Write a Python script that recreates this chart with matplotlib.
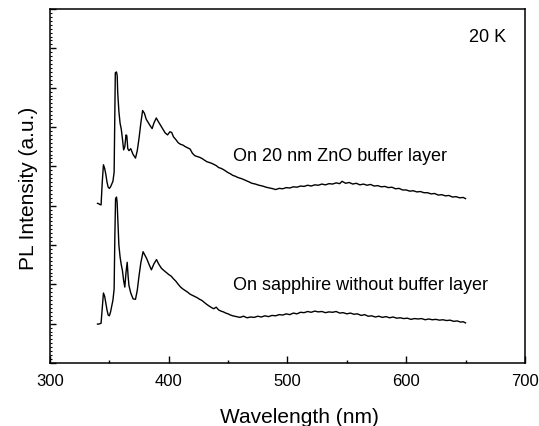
import matplotlib
matplotlib.use("Agg")
import matplotlib.pyplot as plt
from matplotlib.ticker import MultipleLocator, NullFormatter

plt.rcParams['font.family'] = ['Liberation Sans', 'DejaVu Sans']

# ── data ─────────────────────────────────────────────────────────────────────
# upper spectrum: on 20 nm ZnO buffer layer
wl_buf = [340, 341, 342, 343, 344, 345, 346, 347, 348, 349, 350, 351, 352, 353,
          354, 354.5, 355, 356, 356.6, 357, 358, 359, 360, 361, 362, 363, 364,
          364.7, 365.5, 366.5, 368, 370, 372, 373.5, 375, 376.5, 378, 379.5,
          381, 382.6, 384, 386, 387.5, 389.5, 391, 393, 395, 397, 399, 401,
          402.5, 404, 406, 408, 410, 412, 414, 416, 418, 420, 422, 424, 426,
          428, 430, 432, 434, 436, 438, 440, 442, 444, 446, 448, 450, 452, 454,
          456, 458, 460, 462, 465, 468, 470, 473, 476, 479, 482, 485, 488, 490,
          493, 496, 499, 502, 505, 508, 511, 514, 517, 520, 523, 526, 529, 532,
          535, 538, 541, 544, 546, 549, 552, 555, 558, 561, 564, 567, 570, 573,
          576, 579, 582, 585, 588, 591, 594, 597, 600, 603, 606, 609, 612, 615,
          618, 621, 624, 627, 630, 633, 636, 639, 642, 645, 648, 650]
pl_buf = [4.06, 4.05, 4.03, 4.02, 4.60, 5.04, 4.95, 4.80, 4.60, 4.47, 4.44, 4.48,
          4.55, 4.62, 4.85, 6.20, 7.38, 7.40, 7.30, 6.89, 6.40, 6.10, 5.95, 5.70,
          5.42, 5.50, 5.80, 5.78, 5.45, 5.40, 5.45, 5.30, 5.21, 5.40, 5.72, 6.10,
          6.42, 6.35, 6.20, 6.12, 6.05, 5.96, 6.10, 6.23, 6.15, 6.05, 5.95, 5.85,
          5.80, 5.88, 5.86, 5.75, 5.68, 5.60, 5.56, 5.54, 5.50, 5.47, 5.44, 5.33,
          5.27, 5.25, 5.23, 5.20, 5.16, 5.12, 5.10, 5.08, 5.05, 5.02, 4.97, 4.95,
          4.92, 4.88, 4.84, 4.81, 4.77, 4.75, 4.72, 4.70, 4.68, 4.64, 4.60, 4.57,
          4.55, 4.52, 4.50, 4.47, 4.45, 4.43, 4.41, 4.44, 4.43, 4.46, 4.45, 4.48,
          4.47, 4.50, 4.49, 4.52, 4.50, 4.53, 4.52, 4.55, 4.53, 4.56, 4.55, 4.58,
          4.56, 4.62, 4.57, 4.59, 4.55, 4.57, 4.53, 4.55, 4.52, 4.54, 4.50, 4.51,
          4.48, 4.49, 4.46, 4.47, 4.43, 4.44, 4.40, 4.40, 4.37, 4.38, 4.35, 4.36,
          4.33, 4.33, 4.30, 4.31, 4.27, 4.28, 4.25, 4.26, 4.22, 4.23, 4.20, 4.21,
          4.18]

# lower spectrum: on sapphire without buffer layer
wl_sap = [340, 341, 342, 343, 344, 345, 346, 347, 348, 349, 350, 351, 352, 353,
          354, 354.6, 355.2, 356, 356.5, 357, 358, 359, 360, 361, 362, 363, 364,
          365, 365.8, 366.5, 368, 370, 372, 373.5, 375, 376.5, 378.4, 380, 381.5,
          383.5, 385.4, 387.5, 389.7, 391.5, 393.8, 396, 398, 400, 402, 404, 406,
          408, 410, 412, 414, 416, 418, 420, 422, 424, 426, 428, 430, 432, 434,
          436, 438, 440, 442, 444, 446, 448, 450, 452, 454, 457, 460, 463, 466,
          469, 472, 475, 478, 481, 484, 487, 490, 493, 496, 499, 502, 505, 508,
          511, 514, 517, 520, 523, 526, 529, 532, 535, 538, 541, 544, 547, 550,
          553, 556, 559, 562, 565, 568, 571, 574, 577, 580, 583, 586, 589, 592,
          595, 598, 601, 604, 607, 610, 613, 616, 619, 622, 625, 628, 631, 634,
          637, 640, 643, 646, 648, 650]
pl_sap = [0.99, 0.99, 1.00, 1.01, 1.40, 1.78, 1.70, 1.52, 1.35, 1.22, 1.20, 1.30,
          1.45, 1.60, 1.88, 3.20, 4.17, 4.22, 4.10, 3.75, 3.00, 2.70, 2.50, 2.35,
          2.10, 1.93, 2.30, 2.56, 2.20, 1.97, 1.78, 1.63, 1.62, 1.85, 2.22, 2.55,
          2.83, 2.74, 2.65, 2.50, 2.37, 2.52, 2.63, 2.52, 2.41, 2.35, 2.30, 2.25,
          2.21, 2.14, 2.08, 2.00, 1.93, 1.88, 1.84, 1.80, 1.75, 1.72, 1.69, 1.66,
          1.62, 1.59, 1.54, 1.49, 1.45, 1.41, 1.38, 1.42, 1.35, 1.32, 1.30, 1.27,
          1.25, 1.22, 1.20, 1.18, 1.16, 1.19, 1.15, 1.17, 1.16, 1.19, 1.17, 1.20,
          1.18, 1.21, 1.20, 1.23, 1.22, 1.25, 1.23, 1.27, 1.25, 1.29, 1.28, 1.31,
          1.29, 1.32, 1.30, 1.31, 1.28, 1.30, 1.29, 1.31, 1.27, 1.28, 1.25, 1.27,
          1.24, 1.25, 1.21, 1.23, 1.19, 1.20, 1.17, 1.19, 1.16, 1.18, 1.15, 1.17,
          1.14, 1.15, 1.13, 1.14, 1.11, 1.13, 1.12, 1.13, 1.10, 1.12, 1.10, 1.11,
          1.09, 1.10, 1.08, 1.09, 1.06, 1.07, 1.04, 1.05, 1.02]

label_buf = "On 20 nm ZnO buffer layer"
label_sap = "On sapphire without buffer layer"
label_temp = "20 K"

# ── figure ───────────────────────────────────────────────────────────────────
fig = plt.figure(figsize=(5.39, 4.27), dpi=100)
ax = fig.add_axes([0.0928, 0.1475, 0.881, 0.829])

ax.plot(wl_buf, pl_buf, color="black", lw=1.0)
ax.plot(wl_sap, pl_sap, color="black", lw=1.0)

ax.set_xlim(300, 700)
ax.set_ylim(0, 9)
ax.xaxis.set_major_locator(MultipleLocator(100))
ax.xaxis.set_minor_locator(MultipleLocator(50))
ax.yaxis.set_major_locator(MultipleLocator(1))
ax.yaxis.set_minor_locator(MultipleLocator(0.1))
ax.yaxis.set_major_formatter(NullFormatter())
ax.tick_params(axis="x", which="major", direction="in", length=5, width=1,
               labelsize=12, pad=7)
ax.tick_params(axis="x", which="minor", direction="in", length=2.2, width=1)
ax.tick_params(axis="y", which="major", direction="in", length=4.3, width=1)
ax.tick_params(axis="y", which="minor", direction="in", length=1.5, width=0.8)
for s in ax.spines.values():
    s.set_linewidth(1.1)

ax.text(454, 5.27, label_buf, fontsize=13, va="center", ha="left")
ax.text(454, 2.0, label_sap, fontsize=13, va="center", ha="left")
ax.text(653, 8.3, label_temp, fontsize=13, va="center", ha="left")

fig.text(29 / 539, 1 - 188 / 427, "PL Intensity (a.u.)", fontsize=15,
         rotation=90, ha="center", va="center")
fig.text(299.5 / 539, 1 - 418 / 427, "Wavelength (nm)", fontsize=15,
         ha="center", va="center")

fig.savefig("out.png", dpi=100)
